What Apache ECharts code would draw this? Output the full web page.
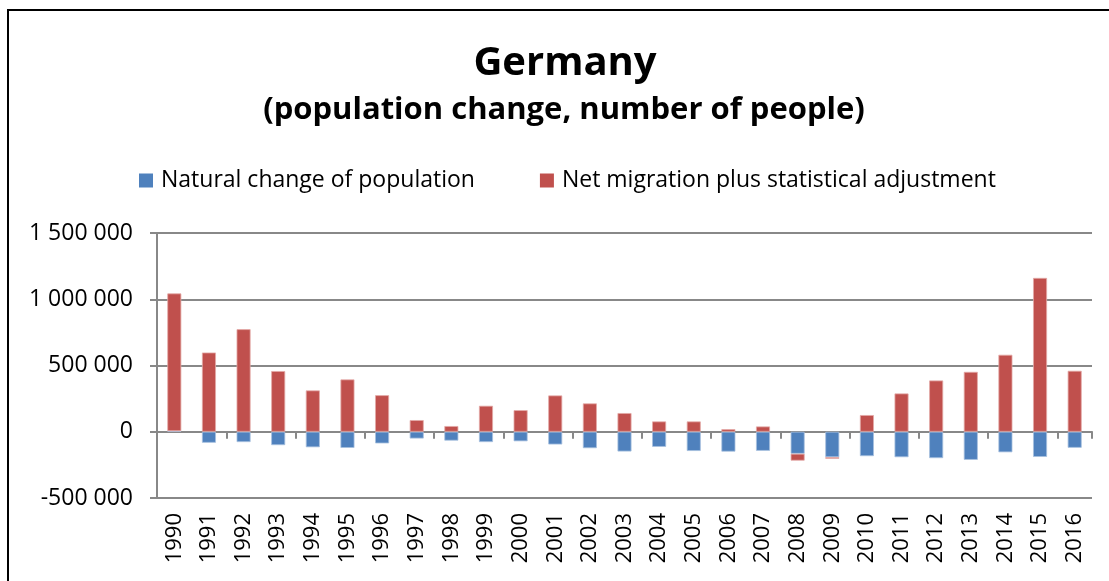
<!DOCTYPE html>
<html>
<head>
<meta charset="utf-8">
<script src="https://cdn.jsdelivr.net/npm/echarts@6/dist/echarts.min.js"></script>
<style>
html,body{margin:0;padding:0;background:#fff;}
#chart{width:1109px;height:581px;}
</style>
</head>
<body>
<div id="chart"></div>
<script>
const years = ['1990','1991','1992','1993','1994','1995','1996','1997','1998','1999','2000','2001','2002','2003','2004','2005','2006','2007','2008','2009','2010','2011','2012','2013','2014','2015','2016'];
const naturalChange = [4000,-83000,-78000,-101000,-117000,-122000,-88000,-51000,-67000,-78000,-72000,-96000,-124000,-149000,-114000,-145000,-150000,-144000,-166000,-192000,-184000,-192000,-199000,-212000,-155000,-190000,-121000];
const netMigration = [1040000,598000,774000,458000,312000,395000,276000,88000,43000,196000,163000,274000,214000,141000,78000,78000,20000,40000,-52000,-12000,126000,289000,387000,452000,581000,1161000,460000];
const yTicks = {min:-500000, max:1500000, interval:500000};
const seriesNames = ['Natural change of population','Net migration plus statistical adjustment'];
const titleText = 'Germany';
const subtitleText = '(population change, number of people)';

const FONT = '"Open Sans", "Liberation Sans", sans-serif';
function fmt(v){
  const s = Math.abs(v).toString().replace(/\B(?=(\d{3})+(?!\d))/g,' ');
  return (v<0?'-':'') + s;
}
const chart = echarts.init(document.getElementById('chart'), null, {renderer:'canvas'});
chart.setOption({
  animation:false,
  backgroundColor:'#fff',
  graphic:[
    {type:'rect', shape:{x:8,y:10,width:1110,height:600}, style:{fill:'none',stroke:'#000',lineWidth:2}, z:-1},
    {type:'text', x:565, y:44, style:{text:titleText, fill:'#000', font:'bold 40px ' + FONT, textAlign:'center', textVerticalAlign:'top'}},
    {type:'text', x:564, y:95, style:{text:subtitleText, fill:'#000', font:'bold 31px ' + FONT, textAlign:'center', textVerticalAlign:'top'}}
  ],
  legend:{
    left:134, top:164, itemWidth:14, itemHeight:14, itemGap:65,
    icon:'rect',
    itemStyle:{borderWidth:0},
    textStyle:{fontFamily:FONT,fontSize:23,color:'#000',padding:[0,0,0,3]},
    data:seriesNames
  },
  grid:{left:157, right:17, top:233, bottom:83, containLabel:false},
  xAxis:[
    {type:'category', data:years, axisLine:{show:false, onZero:false}, axisTick:{show:false},
     axisLabel:{rotate:90, fontFamily:FONT, fontSize:22, color:'#000', margin:15, interval:0}},
    {type:'category', data:years, position:'bottom', axisLine:{show:true, onZero:true, lineStyle:{color:'#888',width:2}},
     axisTick:{show:true, length:7, lineStyle:{color:'#888',width:2}}, axisLabel:{show:false}}
  ],
  yAxis:{
    type:'value', min:yTicks.min, max:yTicks.max, interval:yTicks.interval,
    axisLine:{show:true, lineStyle:{color:'#888',width:2}},
    axisTick:{show:true, length:7, lineStyle:{color:'#888',width:2}},
    splitLine:{show:true, lineStyle:{color:'#888',width:2}},
    axisLabel:{fontFamily:FONT, fontSize:23, color:'#000', margin:24, formatter:fmt}
  },
  series:[
    {name:seriesNames[0], type:'bar', stack:'total', data:naturalChange, barWidth:14,
     itemStyle:{color:'#4F81BD', borderColor:'#a7c0de', borderWidth:0.8}},
    {name:seriesNames[1], type:'bar', stack:'total', data:netMigration, barWidth:14,
     itemStyle:{color:'#C0504D', borderColor:'#e3a9a7', borderWidth:0.8}}
  ]
});
</script>
</body>
</html>
